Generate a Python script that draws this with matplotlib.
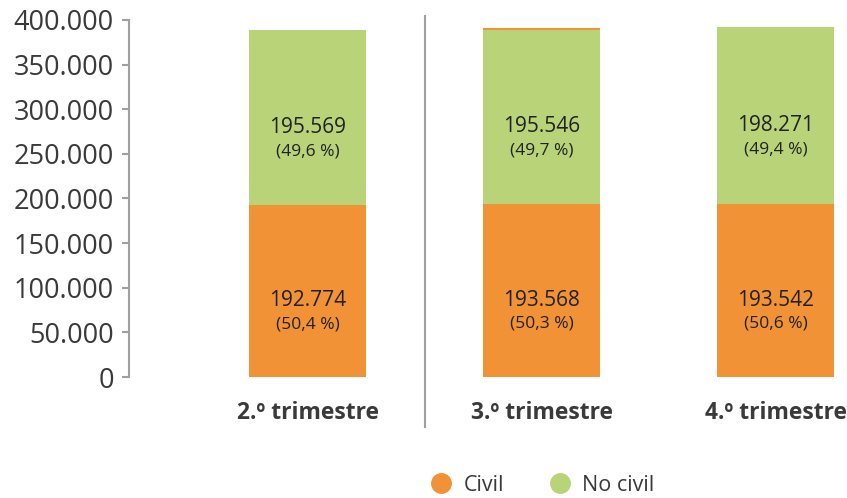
import matplotlib
matplotlib.use("Agg")
import matplotlib.pyplot as plt
from matplotlib.lines import Line2D

plt.rcParams["font.family"] = ["Open Sans", "DejaVu Sans"]

categories = ["2.º trimestre", "3.º trimestre", "4.º trimestre"]
civil = [192774, 193568, 193542]
no_civil = [195569, 195546, 198271]
extra = [0, 1500, 0]  # thin orange sliver on top of 3rd quarter
pct_civil = ["(50,4 %)", "(50,3 %)", "(50,6 %)"]
pct_no_civil = ["(49,6 %)", "(49,7 %)", "(49,4 %)"]
yticks = list(range(0, 400001, 50000))

ORANGE = "#F09235"
GREEN = "#B8D378"
GRAY = "#A0A0A0"
TEXT = "#3A3A3A"

fig = plt.figure(figsize=(8.47, 4.98), dpi=100)
ax = fig.add_axes([129 / 847, 121 / 498, 716 / 847, 357 / 498])

x = list(range(len(categories)))
ax.bar(x, civil, width=0.5, color=ORANGE)
ax.bar(x, no_civil, width=0.5, bottom=civil, color=GREEN)
tops = [c + n for c, n in zip(civil, no_civil)]
ax.bar(x, extra, width=0.5, bottom=tops, color=ORANGE)


def fmt(v):
    return f"{v:,}".replace(",", ".")


for i in x:
    for bottom, val, pct in [(0, civil[i], pct_civil[i]), (civil[i], no_civil[i], pct_no_civil[i])]:
        mid = bottom + val / 2
        ax.annotate(fmt(val), (i, mid), xytext=(0, -7), textcoords="offset points",
                    ha="center", va="center", fontsize=15, color="#222222")
        ax.annotate(pct, (i, mid), xytext=(0, -24), textcoords="offset points",
                    ha="center", va="center", fontsize=12.5, color="#222222")

# separator between 2nd and 3rd quarter
ax.plot([0.502, 0.502], [405000, -56000], color=GRAY, lw=1.5, clip_on=False)

ax.set_xlim(-0.763, 2.297)
ax.set_ylim(0, 400000)
ax.set_yticks(yticks)
ax.set_yticklabels([fmt(t) for t in yticks], fontsize=19.5, color=TEXT)
ax.set_xticks(x)
ax.set_xticklabels(categories, fontsize=16.5, fontweight="bold", color=TEXT)
ax.tick_params(axis="x", length=0, pad=17)
ax.tick_params(axis="y", length=5, width=1.5, color=GRAY, pad=6)

for s in ["top", "right", "bottom"]:
    ax.spines[s].set_visible(False)
ax.spines["left"].set_color(GRAY)
ax.spines["left"].set_linewidth(1.5)

handles = [
    Line2D([], [], marker="o", ls="", color=ORANGE, markersize=14, label="Civil"),
    Line2D([], [], marker="o", ls="", color=GREEN, markersize=14, label="No civil"),
]
leg = fig.legend(handles=handles, loc="center", bbox_to_anchor=(0.634, 0.026), ncol=2,
                 frameon=False, fontsize=15.5, handletextpad=0.05, columnspacing=1.6)
for t in leg.get_texts():
    t.set_color(TEXT)

fig.savefig("out.png", dpi=100)
